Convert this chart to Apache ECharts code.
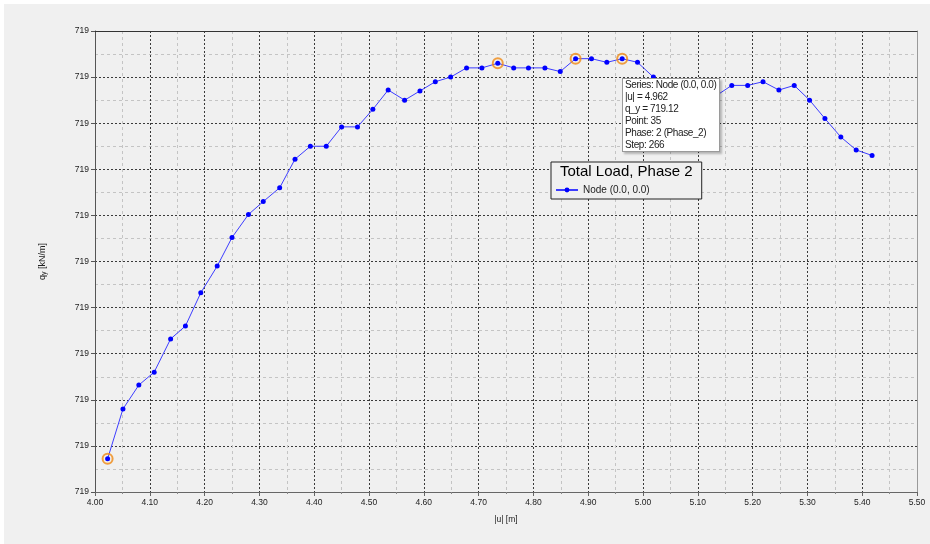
<!DOCTYPE html>
<html>
<head>
<meta charset="utf-8">
<script src="https://cdn.jsdelivr.net/npm/echarts@6/dist/echarts.min.js"></script>
<style>
html,body{margin:0;padding:0;background:#fff;}
#chart{position:absolute;left:0;top:0;width:930px;height:544px;background:#f0f0f0;box-shadow:inset 4px 4px 0 #fff;}
</style>
</head>
<body>
<div id="chart"></div>
<script>
// |u| [m]
const uValues = [4.023, 4.051, 4.080, 4.108, 4.138, 4.165, 4.193, 4.223, 4.250, 4.280,
  4.307, 4.337, 4.365, 4.393, 4.422, 4.450, 4.479, 4.507, 4.535, 4.565,
  4.593, 4.621, 4.649, 4.678, 4.706, 4.735, 4.764, 4.791, 4.821, 4.849,
  4.877, 4.906, 4.934, 4.962, 4.990, 5.019, 5.047, 5.076, 5.105, 5.134,
  5.162, 5.191, 5.219, 5.248, 5.276, 5.304, 5.332, 5.361, 5.389, 5.418];
// q_y [kN/m]
const qValues = [718.686, 718.740, 718.766, 718.780, 718.816, 718.830, 718.866, 718.895, 718.926, 718.951,
  718.965, 718.980, 719.011, 719.025, 719.025, 719.046, 719.046, 719.065, 719.086, 719.075,
  719.085, 719.095, 719.100, 719.110, 719.110, 719.115, 719.110, 719.110, 719.110, 719.106,
  719.120, 719.120, 719.116, 719.120, 719.116, 719.100, 719.088, 719.080, 719.077, 719.080,
  719.091, 719.091, 719.095, 719.086, 719.091, 719.075, 719.055, 719.035, 719.021, 719.015];
const highlightIdx = [0, 25, 30, 33];
const tipIndex = 33;
const tipPoint = 35;
const tipPhase = '2 (Phase_2)';
const tipStep = 266;
const seriesName = 'Node (0.0, 0.0)';
const chartTitle = 'Total Load, Phase 2';
const xTitle = '|u| [m]';
const yTickLabel = '719';

const FONT = '"Liberation Sans", Arial, sans-serif';
const lineData = uValues.map((u, i) => [u, qValues[i]]);
const ringData = highlightIdx.map(i => [uValues[i], qValues[i]]);

const chart = echarts.init(document.getElementById('chart'), null, {renderer: 'canvas'});
const majorGrid = {show: true, lineStyle: {color: '#3a3a3a', width: 1, type: [2, 2]}};
const minorGrid = {show: true, lineStyle: {color: '#c4c4c4', width: 1, type: [3, 3]}};
const axisLbl = {fontSize: 8.5, color: '#222', fontFamily: FONT};

chart.setOption({
  animation: false,
  backgroundColor: 'transparent',
  textStyle: {fontFamily: FONT},
  grid: {left: 95, top: 31, right: 13, bottom: 52, containLabel: false},
  title: {
    text: chartTitle, left: 560, top: 164, padding: 0, z: 10,
    textStyle: {fontSize: 15, fontWeight: 'normal', color: '#000', fontFamily: FONT}
  },
  legend: {
    data: [seriesName], left: 551, top: 162,
    padding: [22, 52, 3, 4],
    itemWidth: 22, itemHeight: 6,
    backgroundColor: '#f0f0f0', borderColor: '#222', borderWidth: 1,
    textStyle: {fontSize: 10, color: '#222', fontFamily: FONT, lineHeight: 12},
    selectedMode: false
  },
  tooltip: {
    trigger: 'item', triggerOn: 'none', alwaysShowContent: true,
    transitionDuration: 0, showDelay: 0,
    backgroundColor: '#ffffff', borderColor: '#9a9a9a', borderWidth: 1,
    padding: [0, 3, 0, 2],
    textStyle: {fontSize: 10, color: '#222', fontFamily: FONT, lineHeight: 12},
    extraCssText: 'border-radius:0;box-shadow:2px 2px 2px rgba(0,0,0,0.25);line-height:12px;letter-spacing:-0.4px;',
    position: function () { return [622, 78]; },
    formatter: function (p) {
      if (p.seriesIndex !== 0) return '';
      const i = p.dataIndex;
      return 'Series: ' + seriesName + '<br/>' +
        '|u| = ' + uValues[i].toFixed(3) + '<br/>' +
        'q_y = ' + qValues[i].toFixed(2) + '<br/>' +
        'Point: ' + tipPoint + '<br/>' +
        'Phase: ' + tipPhase + '<br/>' +
        'Step: ' + tipStep;
    }
  },
  xAxis: [{
    type: 'value', min: 4.0, max: 5.5, interval: 0.1, position: 'bottom',
    name: xTitle, nameLocation: 'middle', nameGap: 23,
    nameTextStyle: {fontSize: 8.5, color: '#222', fontFamily: FONT},
    axisLine: {show: true, onZero: false, lineStyle: {color: '#666', width: 1}},
    axisTick: {show: true, length: 4, lineStyle: {color: '#666'}},
    minorTick: {show: true, splitNumber: 2, length: 2, lineStyle: {color: '#888'}},
    axisLabel: Object.assign({margin: 6, formatter: v => v.toFixed(2)}, axisLbl),
    splitLine: majorGrid,
    minorSplitLine: minorGrid
  }, {
    type: 'value', min: 4.0, max: 5.5, interval: 0.1, position: 'top',
    axisLine: {show: true, onZero: false, lineStyle: {color: '#333', width: 1}},
    axisTick: {show: false}, axisLabel: {show: false}, splitLine: {show: false}
  }],
  yAxis: [{
    type: 'value', min: 718.65, max: 719.15, interval: 0.05, position: 'left',
    name: 'q{sub|y} [kN/m]', nameLocation: 'middle', nameGap: 47, nameRotate: 90,
    nameTextStyle: {fontSize: 9, color: '#222', fontFamily: FONT,
      rich: {sub: {fontSize: 7, color: '#222', verticalAlign: 'bottom', padding: [4, 0, 0, 0]}}},
    axisLine: {show: true, onZero: false, lineStyle: {color: '#555', width: 1}},
    axisTick: {show: true, length: 4, lineStyle: {color: '#555'}},
    axisLabel: Object.assign({margin: 6, formatter: () => yTickLabel}, axisLbl),
    splitLine: majorGrid,
    minorTick: {show: false, splitNumber: 2},
    minorSplitLine: minorGrid
  }, {
    type: 'value', min: 718.65, max: 719.15, interval: 0.05, position: 'right',
    axisLine: {show: true, onZero: false, lineStyle: {color: '#9a9a9a', width: 1}},
    axisTick: {show: false}, axisLabel: {show: false}, splitLine: {show: false}
  }],
  series: [{
    name: seriesName, type: 'line', data: lineData,
    symbol: 'circle', symbolSize: 5, showSymbol: true,
    lineStyle: {color: '#3c3cff', width: 1},
    itemStyle: {color: '#0000ff'},
    emphasis: {disabled: true},
    z: 3
  }, {
    name: 'highlight', type: 'scatter', data: ringData,
    symbol: 'circle', symbolSize: 10,
    itemStyle: {color: 'rgba(0,0,0,0)', borderColor: '#f08a14', borderWidth: 2},
    emphasis: {disabled: true}, silent: true, tooltip: {show: false},
    z: 4
  }]
});
chart.dispatchAction({type: 'showTip', seriesIndex: 0, dataIndex: tipIndex});
</script>
</body>
</html>
